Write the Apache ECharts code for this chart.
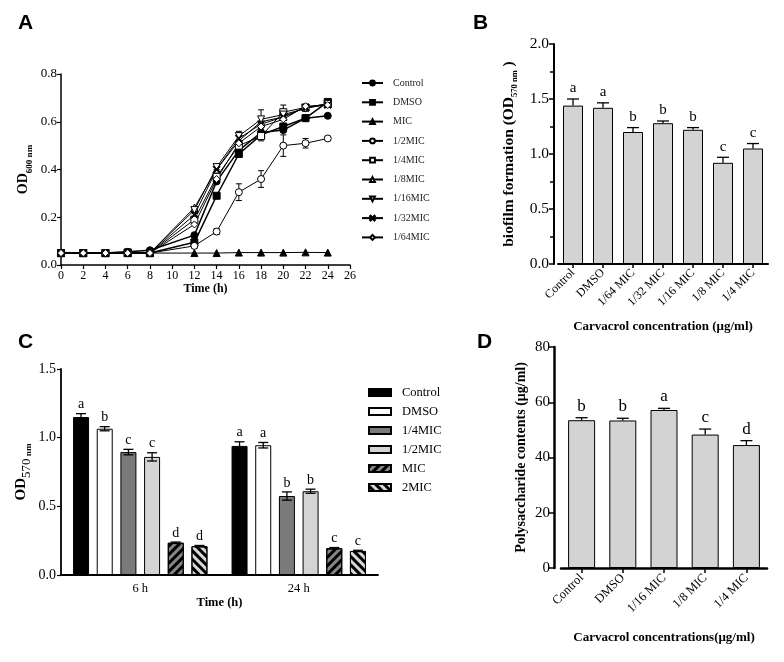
<!DOCTYPE html>
<html>
<head>
<meta charset="utf-8">
<script src="https://cdn.jsdelivr.net/npm/echarts@6/dist/echarts.min.js"></script>
<style>
html, body { margin: 0; background: #fff; }
#main { width: 784px; height: 662px; }
</style>
</head>
<body>
<div id="main"></div>
<script>
// A: growth curves (OD600)
const hours = [0, 2, 4, 6, 8, 12, 14, 16, 18, 20, 22, 24];
const growthNames = ['Control', 'DMSO', 'MIC', '1/2MIC', '1/4MIC', '1/8MIC', '1/16MIC', '1/32MIC', '1/64MIC'];
const odControl = [0.052, 0.05, 0.05, 0.055, 0.062, 0.125, 0.35, 0.48, 0.555, 0.565, 0.615, 0.625];
const odDMSO    = [0.05, 0.05, 0.05, 0.053, 0.05, 0.095, 0.29, 0.465, 0.545, 0.58, 0.615, 0.683];
const odMIC     = [0.05, 0.05, 0.05, 0.05, 0.05, 0.05, 0.05, 0.052, 0.052, 0.052, 0.053, 0.052];
const odHalf    = [0.05, 0.05, 0.05, 0.05, 0.05, 0.08, 0.14, 0.305, 0.36, 0.50, 0.51, 0.53];
const odQuarter = [0.05, 0.05, 0.05, 0.05, 0.05, 0.19, 0.37, 0.50, 0.54, 0.64, 0.66, 0.675];
const odEighth  = [0.05, 0.05, 0.05, 0.05, 0.05, 0.24, 0.40, 0.52, 0.60, 0.62, 0.66, 0.675];
const od16      = [0.05, 0.05, 0.05, 0.05, 0.05, 0.23, 0.41, 0.54, 0.61, 0.63, 0.655, 0.675];
const od32      = [0.05, 0.05, 0.05, 0.05, 0.05, 0.21, 0.40, 0.53, 0.59, 0.62, 0.66, 0.67];
const od64      = [0.05, 0.05, 0.05, 0.05, 0.05, 0.17, 0.36, 0.51, 0.58, 0.61, 0.665, 0.67];
const errHalf   = [0, 0, 0, 0, 0, 0.01, 0.012, 0.035, 0.035, 0.045, 0.02, 0.005];
const err16     = [0, 0, 0, 0, 0, 0.01, 0.01, 0.02, 0.04, 0.01, 0.01, 0.005];
const errQuarter = [0, 0, 0, 0, 0, 0.01, 0.01, 0.01, 0.02, 0.03, 0.01, 0.005];

// B: biofilm formation (OD570)
const bCats = ['Control', 'DMSO', '1/64 MIC', '1/32 MIC', '1/16 MIC', '1/8 MIC', '1/4 MIC'];
const bValues = [1.44, 1.42, 1.20, 1.28, 1.22, 0.92, 1.05];
const bErrors = [0.06, 0.045, 0.04, 0.02, 0.02, 0.05, 0.045];
const bLetters = ['a', 'a', 'b', 'b', 'b', 'c', 'c'];

// C: biofilm at 6 h / 24 h
const cCats = ['6 h', '24 h'];
const cNames = ['Control', 'DMSO', '1/4MIC', '1/2MIC', 'MIC', '2MIC'];
const cControl = [1.15, 0.94];
const cDMSO    = [1.065, 0.945];
const cQuarter = [0.895, 0.575];
const cHalf    = [0.86, 0.61];
const cMIC     = [0.235, 0.195];
const c2MIC    = [0.21, 0.175];
const cErrors  = [[0.025, 0.03], [0.015, 0.02], [0.02, 0.03], [0.03, 0.015], [0.005, 0.005], [0.005, 0.005]];
const cLetters = [['a', 'a'], ['b', 'a'], ['c', 'b'], ['c', 'b'], ['d', 'c'], ['d', 'c']];

// D: polysaccharide contents
const dCats = ['Control', 'DMSO', '1/16 MIC', '1/8 MIC', '1/4 MIC'];
const dValues = [53.5, 53.4, 57.2, 48.3, 44.5];
const dErrors = [0.9, 0.8, 0.6, 2.0, 1.6];
const dLetters = ['b', 'b', 'a', 'c', 'd'];

const SERIF = 'Liberation Serif';
const black = '#000';

function axisLine(w) {
    return { show: true, lineStyle: { color: black, width: w } };
}

function tick(len, w) {
    return { show: true, length: len, lineStyle: { color: black, width: w } };
}

// subscript-style axis title
function subRich(big, small) {
    return {
        m: { fontFamily: SERIF, fontWeight: 'bold', fontSize: big, color: black, lineHeight: big + 2, verticalAlign: 'top' },
        r: { fontFamily: SERIF, fontSize: big - 2, color: black, padding: [big * 0.45, 0, 0, 0], verticalAlign: 'bottom' },
        s: { fontFamily: SERIF, fontWeight: 'bold', fontSize: small, color: black, padding: [big * 0.6, 0, 0, 0], verticalAlign: 'bottom' }
    };
}

const growthData = [odControl, odDMSO, odMIC, odHalf, odQuarter, odEighth, od16, od32, od64];
const growthSymbols = [
    { symbol: 'circle', fill: black },
    { symbol: 'rect', fill: black },
    { symbol: 'triangle', fill: black },
    { symbol: 'circle', fill: '#fff' },
    { symbol: 'rect', fill: '#fff' },
    { symbol: 'triangle', fill: '#fff' },
    { symbol: 'triangle', fill: '#fff', rotate: 180 },
    { symbol: 'path://M0,1L1,0L5,4L9,0L10,1L6,5L10,9L9,10L5,6L1,10L0,9L4,5Z', fill: black },
    { symbol: 'diamond', fill: '#fff' }
];

let lineSeries = growthNames.map((name, k) => ({
    name: name,
    type: 'line',
    xAxisIndex: 0,
    yAxisIndex: 0,
    data: hours.map((h, i) => [h, growthData[k][i]]),
    symbol: growthSymbols[k].symbol,
    symbolSize: 7,
    symbolRotate: growthSymbols[k].rotate || 0,
    showSymbol: true,
    lineStyle: { color: black, width: k < 2 ? 1.5 : 1 },
    itemStyle: { color: growthSymbols[k].fill, borderColor: black, borderWidth: 1 },
    z: 3
}));

const growthErr = [[odHalf, errHalf], [od16, err16], [odQuarter, errQuarter]];
let growthErrData = [];
growthErr.forEach(pair => {
    hours.forEach((h, i) => {
        if (pair[1][i] > 0) growthErrData.push([h, pair[0][i], pair[1][i]]);
    });
});

function renderLineErr(params, api) {
    let x = api.value(0), y = api.value(1), e = api.value(2);
    let hi = api.coord([x, y + e]);
    let lo = api.coord([x, y - e]);
    let st = { stroke: black, lineWidth: 1 };
    return {
        type: 'group',
        children: [
            { type: 'line', shape: { x1: hi[0], y1: hi[1], x2: lo[0], y2: lo[1] }, style: st },
            { type: 'line', shape: { x1: hi[0] - 3, y1: hi[1], x2: hi[0] + 3, y2: hi[1] }, style: st },
            { type: 'line', shape: { x1: lo[0] - 3, y1: lo[1], x2: lo[0] + 3, y2: lo[1] }, style: st }
        ]
    };
}

// one-sided error bar with letter above (B, D)
function upErr(values, errors, letters, cap, fontSize) {
    return function (params, api) {
        let i = params.dataIndex;
        let base = api.coord([i, values[i]]);
        let top = api.coord([i, values[i] + errors[i]]);
        let st = { stroke: black, lineWidth: 1.3 };
        return {
            type: 'group',
            children: [
                { type: 'line', shape: { x1: base[0], y1: base[1], x2: top[0], y2: top[1] }, style: st },
                { type: 'line', shape: { x1: top[0] - cap, y1: top[1], x2: top[0] + cap, y2: top[1] }, style: st },
                {
                    type: 'text', x: top[0], y: top[1] - 3,
                    style: { text: letters[i], fill: black, fontFamily: SERIF, fontSize: fontSize, align: 'center', verticalAlign: 'bottom' }
                }
            ]
        };
    };
}

// C: grouped bars, error bars and letters
const cData = [cControl, cDMSO, cQuarter, cHalf, cMIC, c2MIC];
const cColors = ['#000', '#fff', '#7a7a7a', '#d4d4d4', '#858585', '#d8d8d8'];
const C_BAR = 16;
const C_GAP = 0.48;
// bar series in C get a prefix so they do not clash with the line series names
const C_KEY = 'C:';

let cErrData = [];
cData.forEach((vals, s) => {
    vals.forEach((v, c) => {
        cErrData.push([c, v + cErrors[s][c], s]);
    });
});

function renderCErr(params, api) {
    let c = api.value(0), s = api.value(2);
    let v = cData[s][c], e = cErrors[s][c];
    let step = C_BAR * (1 + C_GAP);
    let dx = (s - 2.5) * step;
    let hi = api.coord([c, v + e]);
    let lo = api.coord([c, v - e]);
    let x = hi[0] + dx;
    let st = { stroke: black, lineWidth: 1.3 };
    return {
        type: 'group',
        children: [
            { type: 'line', shape: { x1: x, y1: hi[1], x2: x, y2: lo[1] }, style: st },
            { type: 'line', shape: { x1: x - 5, y1: hi[1], x2: x + 5, y2: hi[1] }, style: st },
            { type: 'line', shape: { x1: x - 5, y1: lo[1], x2: x + 5, y2: lo[1] }, style: st },
            {
                type: 'text', x: x, y: hi[1] - 2,
                style: { text: cLetters[s][c], fill: black, fontFamily: SERIF, fontSize: 14, align: 'center', verticalAlign: 'bottom' }
            }
        ]
    };
}

let barSeriesC = cNames.map((name, s) => {
    let item = { color: cColors[s], borderColor: black, borderWidth: 1 };
    if (s === 4) {
        item.decal = { symbol: 'rect', symbolSize: 1, dashArrayX: [1, 0], dashArrayY: [3, 3], rotation: -Math.PI / 4, color: '#000' };
    }
    if (s === 5) {
        item.decal = { symbol: 'rect', symbolSize: 1, dashArrayX: [1, 0], dashArrayY: [3, 3], rotation: Math.PI / 4, color: '#000' };
    }
    return {
        name: C_KEY + name,
        type: 'bar',
        xAxisIndex: 2,
        yAxisIndex: 2,
        data: cData[s],
        barWidth: C_BAR,
        barGap: (C_GAP * 100) + '%',
        itemStyle: item
    };
});

const tickLabel = (size) => ({ color: black, fontFamily: SERIF, fontSize: size });

let option = {
    animation: false,
    backgroundColor: '#fff',
    graphic: [
        { type: 'text', left: 18, top: 13, style: { text: 'A', font: 'bold 21px "Liberation Sans"', fill: black } },
        { type: 'text', left: 473, top: 13, style: { text: 'B', font: 'bold 21px "Liberation Sans"', fill: black } },
        { type: 'text', left: 18, top: 332, style: { text: 'C', font: 'bold 21px "Liberation Sans"', fill: black } },
        { type: 'text', left: 477, top: 332, style: { text: 'D', font: 'bold 21px "Liberation Sans"', fill: black } }
    ],
    legend: [
        {
            data: growthNames,
            orient: 'vertical',
            left: 361,
            top: 78,
            padding: 0,
            itemWidth: 21,
            itemHeight: 6,
            itemGap: 9.3,
            textStyle: { fontFamily: SERIF, fontSize: 10, color: '#222', padding: [0, 0, 0, 5] }
        },
        {
            data: cNames.map(n => C_KEY + n),
            formatter: n => n.replace(C_KEY, ''),
            orient: 'vertical',
            left: 368,
            top: 386,
            padding: 0,
            itemWidth: 22,
            itemHeight: 7,
            itemGap: 6,
            icon: 'rect',
            textStyle: { fontFamily: SERIF, fontSize: 12.5, color: black, padding: [0, 0, 0, 6] }
        }
    ],
    grid: [
        { left: 61, top: 74, width: 289, height: 191 },
        { left: 558, top: 44, width: 210, height: 220 },
        { left: 61, top: 369, width: 317, height: 206 },
        { left: 561, top: 347, width: 206, height: 221 }
    ],
    xAxis: [
        {
            gridIndex: 0, type: 'value', min: 0, max: 26, interval: 2,
            name: 'Time (h)', nameLocation: 'middle', nameGap: 11,
            nameTextStyle: { fontFamily: SERIF, fontWeight: 'bold', fontSize: 12, color: black },
            axisLine: axisLine(1.5), axisTick: tick(4, 1.2), splitLine: { show: false },
            axisLabel: Object.assign(tickLabel(12), { margin: 5 })
        },
        {
            gridIndex: 1, type: 'category', data: bCats,
            name: 'Carvacrol concentration (μg/ml)', nameLocation: 'middle', nameGap: 56,
            nameTextStyle: { fontFamily: SERIF, fontWeight: 'bold', fontSize: 13, color: black },
            axisLine: axisLine(2), axisTick: Object.assign(tick(4, 1.5), { alignWithLabel: true }),
            axisLabel: Object.assign(tickLabel(12), { rotate: 45, margin: 7, interval: 0 })
        },
        {
            gridIndex: 2, type: 'category', data: cCats,
            name: 'Time (h)', nameLocation: 'middle', nameGap: 13,
            nameTextStyle: { fontFamily: SERIF, fontWeight: 'bold', fontSize: 12.5, color: black },
            axisLine: axisLine(1.8), axisTick: { show: false },
            axisLabel: Object.assign(tickLabel(12.5), { margin: 7 })
        },
        {
            gridIndex: 3, type: 'category', data: dCats,
            name: 'Carvacrol concentrations(μg/ml)', nameLocation: 'middle', nameGap: 63,
            nameTextStyle: { fontFamily: SERIF, fontWeight: 'bold', fontSize: 13, color: black },
            axisLine: axisLine(2.5), axisTick: Object.assign(tick(5, 1.5), { alignWithLabel: true }),
            axisLabel: Object.assign(tickLabel(12.5), { rotate: 45, margin: 8, interval: 0 })
        }
    ],
    yAxis: [
        {
            gridIndex: 0, type: 'value', min: 0, max: 0.8, interval: 0.2,
            name: '{m|OD}{s|600 nm}', nameLocation: 'middle', nameGap: 27,
            nameTextStyle: { rich: subRich(14, 9) },
            axisLine: axisLine(1.5), axisTick: tick(4, 1.2), splitLine: { show: false },
            axisLabel: Object.assign(tickLabel(13), { margin: 4, formatter: v => v.toFixed(1) })
        },
        {
            gridIndex: 1, type: 'value', min: 0, max: 2, interval: 0.5, offset: 4,
            name: '{m|biofilm formation (OD}{s|570 nm}{m| )}', nameLocation: 'middle', nameGap: 35,
            nameTextStyle: { rich: subRich(15.5, 8.5) },
            axisLine: axisLine(2), axisTick: tick(5, 1.5), splitLine: { show: false },
            minorTick: { show: true, splitNumber: 2, length: 4, lineStyle: { color: black, width: 1.5 } },
            axisLabel: Object.assign(tickLabel(15.5), { margin: 5, formatter: v => v.toFixed(1) })
        },
        {
            gridIndex: 2, type: 'value', min: 0, max: 1.5, interval: 0.5,
            name: '{m|OD}{r|570}{s| nm}', nameLocation: 'middle', nameGap: 28,
            nameTextStyle: { rich: subRich(15, 9) },
            axisLine: axisLine(1.8), axisTick: tick(4, 1.2), splitLine: { show: false },
            axisLabel: Object.assign(tickLabel(14), { margin: 5, formatter: v => v.toFixed(1) })
        },
        {
            gridIndex: 3, type: 'value', min: 0, max: 80, interval: 20, offset: 7,
            name: 'Polysaccharide contents (μg/ml)', nameLocation: 'middle', nameGap: 26,
            nameTextStyle: { fontFamily: SERIF, fontWeight: 'bold', fontSize: 14, color: black },
            axisLine: axisLine(2.5), axisTick: tick(5, 1.5), splitLine: { show: false },
            axisLabel: Object.assign(tickLabel(15), { margin: 4 })
        }
    ],
    series: lineSeries.concat([
        {
            type: 'custom', xAxisIndex: 0, yAxisIndex: 0,
            data: growthErrData, renderItem: renderLineErr, z: 2, silent: true
        },
        {
            type: 'bar', xAxisIndex: 1, yAxisIndex: 1, data: bValues, barWidth: 20,
            itemStyle: { color: '#d3d3d3', borderColor: black, borderWidth: 1 }
        },
        {
            type: 'custom', xAxisIndex: 1, yAxisIndex: 1,
            data: bValues.map((v, i) => [i, v + bErrors[i]]),
            renderItem: upErr(bValues, bErrors, bLetters, 6, 15), z: 3
        }
    ]).concat(barSeriesC).concat([
        {
            type: 'custom', xAxisIndex: 2, yAxisIndex: 2,
            data: cErrData, renderItem: renderCErr, z: 3
        },
        {
            type: 'bar', xAxisIndex: 3, yAxisIndex: 3, data: dValues, barWidth: 27,
            itemStyle: { color: '#d3d3d3', borderColor: black, borderWidth: 1 }
        },
        {
            type: 'custom', xAxisIndex: 3, yAxisIndex: 3,
            data: dValues.map((v, i) => [i, v + dErrors[i]]),
            renderItem: upErr(dValues, dErrors, dLetters, 6, 17), z: 3
        }
    ])
};

let chart = echarts.init(document.getElementById('main'));
chart.setOption(option);
</script>
</body>
</html>
